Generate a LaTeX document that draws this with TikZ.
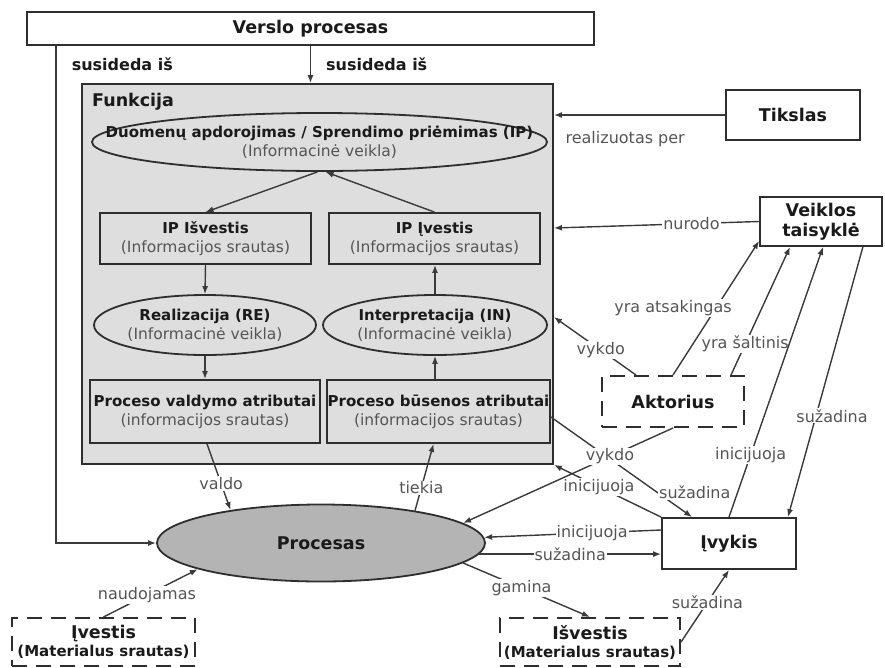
\documentclass[tikz,border=0pt]{standalone}
\usepackage{fontspec}
\setmainfont{DejaVu Sans}
\usetikzlibrary{shapes.geometric,arrows.meta}

\definecolor{ink}{HTML}{2E2E2E}
\definecolor{txt}{HTML}{1A1A1A}
\definecolor{linegray}{HTML}{3A3A3A}
\definecolor{labgray}{HTML}{555555}
\definecolor{funkfill}{HTML}{DEDEDE}
\definecolor{procfill}{HTML}{B4B4B4}

\newcommand{\fbig}{\fontsize{17.5}{20}\selectfont\bfseries}
\newcommand{\fttl}{\fontsize{15}{19}\selectfont\bfseries}
\newcommand{\fsub}{\fontsize{15.5}{19}\selectfont}
\newcommand{\flbl}{\fontsize{16}{19}\selectfont}

\tikzset{
  box/.style={draw=ink, line width=1.8pt, rectangle, inner sep=0pt, align=center, text=txt},
  ell/.style={draw=ink, line width=1.8pt, ellipse, inner sep=0pt},
  dbox/.style={box, line width=2pt, dash pattern=on 15pt off 9pt},
  arr/.style={draw=linegray, line width=1.4pt, -{Latex[length=8pt,width=6pt]}},
  lbl/.style={text=labgray, font=\flbl, fill=white, inner sep=1pt},
  boldlbl/.style={text=txt, font=\fontsize{16}{19}\selectfont\bfseries, inner sep=0pt},
  twoline/.style={align=center, font=\fsub, text=txt, inner sep=0pt},
}

\begin{document}
\begin{tikzpicture}[x=1pt,y=-1pt]
\useasboundingbox (0,0) rectangle (885,667);

% top level and the function frame
\node[box, minimum width=567pt, minimum height=33pt, font=\fbig] (verslo) at (310.5,28.5) {Verslo procesas};
\node[box, fill=funkfill, minimum width=471pt, minimum height=380pt] (funk) at (317.5,274) {};
\node[anchor=west, inner sep=0pt, font=\fbig, text=txt] (funktitle) at (92,102) {Funkcija};

% information activities and flows inside the function
\node[ell, fill=funkfill, minimum width=455pt, minimum height=58pt] (ipell) at (319.5,142) {};
\node[twoline] (ipelltxt) at (ipell) {{\fttl Duomenų apdorojimas / Sprendimo priėmimas (IP)}\\\textcolor{labgray}{(Informacinė veikla)}};

\node[box, fill=funkfill, minimum width=211pt, minimum height=51pt, font=\fsub] (ipout) at (205.5,238.5)
  {{\fttl IP Išvestis}\\\textcolor{labgray}{(Informacijos srautas)}};
\node[box, fill=funkfill, minimum width=211pt, minimum height=51pt, font=\fsub] (ipin) at (434.5,238.5)
  {{\fttl IP Įvestis}\\\textcolor{labgray}{(Informacijos srautas)}};

\node[ell, fill=funkfill, minimum width=222pt, minimum height=60pt] (re) at (205,325) {};
\node[twoline] (retxt) at (re) {{\fttl Realizacija (RE)}\\\textcolor{labgray}{(Informacinė veikla)}};
\node[ell, fill=funkfill, minimum width=224pt, minimum height=60pt] (inn) at (435,325) {};
\node[twoline] (inntxt) at (inn) {{\fttl Interpretacija (IN)}\\\textcolor{labgray}{(Informacinė veikla)}};

\node[box, fill=funkfill, minimum width=230pt, minimum height=63pt, font=\fsub] (pva) at (205,411.5)
  {{\fttl Proceso valdymo atributai}\\\textcolor{labgray}{(informacijos srautas)}};
\node[box, fill=funkfill, minimum width=223pt, minimum height=63pt, font=\fsub] (pba) at (438.5,411.5)
  {{\fttl Proceso būsenos atributai}\\\textcolor{labgray}{(informacijos srautas)}};

% process, material flows and surroundings
\node[ell, fill=procfill, minimum width=328pt, minimum height=77pt, font=\fbig, text=txt] (proc) at (321,543) {Procesas};
\node[dbox, minimum width=183pt, minimum height=48pt, font=\fbig] (ivestis) at (103.5,642)
  {Įvestis\\[-2pt]{\fttl (Materialus srautas)}};
\node[dbox, minimum width=180pt, minimum height=48pt, font=\fbig] (isvestis) at (590,642)
  {Išvestis\\[-2pt]{\fttl (Materialus srautas)}};
\node[box, fill=white, minimum width=134pt, minimum height=51pt, font=\fbig] (ivykis) at (729,543.5) {Įvykis};
\node[box, fill=white, minimum width=134pt, minimum height=50pt, font=\fbig] (tikslas) at (793,115) {Tikslas};
\node[box, fill=white, minimum width=122pt, minimum height=49pt, font=\fbig] (veiklos) at (821,221.5) {Veiklos\\taisyklė};
\node[dbox, minimum width=142pt, minimum height=51pt, font=\fbig] (aktorius) at (673,401.5) {Aktorius};

% composition of the business process
\draw[arr] (verslo.south) -- node[boldlbl, anchor=west, xshift=15pt] {susideda iš} (verslo.south |- funk.north);
\draw[arr] ([xshift=30pt]verslo.south west) |- node[boldlbl, pos=0.018, anchor=west, xshift=15pt] {susideda iš} (proc.west);

% flows inside the function
\draw[arr] ([xshift=-2pt]ipell.south) -- (ipout.north);
\draw[arr] (ipin.north) -- ([xshift=6pt]ipell.south);
\draw[arr] (ipout.south) -- (re.north);
\draw[arr] (re.south) -- (pva.north);
\draw[arr] (inn.south |- pba.north) -- (inn.south);
\draw[arr] (inn.north) -- (inn.north |- ipin.south);

% goal, rules and actor
\draw[arr] (tikslas.west) -- (funk.east |- tikslas.west)
  node[lbl, pos=1, anchor=west, xshift=10pt, yshift=-24pt] {realizuotas per};
\draw[arr] (veiklos.west) -- node[lbl, pos=0.33] {nurodo} ([yshift=46pt]funk.east);
\draw[arr] ([xshift=35pt]aktorius.north west) -- node[lbl, pos=0.43] {vykdo} ([yshift=-43pt]funk.east);
\draw[arr] (aktorius.north) -- node[lbl, pos=0.5, xshift=-43pt] {yra atsakingas} ([yshift=6pt]veiklos.south west);
\draw[arr] ([xshift=-14pt]aktorius.north east) -- node[lbl, pos=0.24] {yra šaltinis} ([xshift=-31pt]veiklos.south);
\draw[arr] (ivykis.north) -- node[lbl, pos=0.23] {inicijuoja} ([xshift=2pt]veiklos.south);
\draw[arr] ([xshift=-20pt]veiklos.south east) -- node[lbl, pos=0.625, xshift=16pt] {sužadina} ([xshift=-9pt]ivykis.north east);

% events
\draw[arr] ([yshift=-5.5pt]pba.east) -- node[lbl, pos=0.75, xshift=38pt] {sužadina} ([xshift=31pt]ivykis.north west);
\draw[arr] (ivykis.north west) -- node[lbl, pos=0.58] {inicijuoja} (funk.south east);
\draw[arr] (aktorius.south) -- node[lbl, pos=0.3] {vykdo} (proc.8);
\draw[arr] (proc.-4.4) -- node[lbl, midway] {sužadina} (proc.-4.4 -| ivykis.west);
\draw[arr] ([yshift=13.5pt]ivykis.west) -- node[lbl, pos=0.39] {inicijuoja} (proc.2);

% process relations
\draw[arr] (proc.-8) -- node[lbl, pos=0.46] {gamina} (isvestis.north);
\draw[arr] (ivestis.north) -- node[lbl, pos=0.46] {naudojamas} (proc.192);
\draw[arr] ([xshift=2pt]pva.south) -- node[lbl, pos=0.6] {valdo} (proc.160);
\draw[arr] (proc.19) -- node[lbl, pos=0.34] {tiekia} ([xshift=-5pt]pba.south);
\draw[arr] (isvestis.east) -- node[lbl, pos=0.55] {sužadina} (ivykis.south);
\end{tikzpicture}
\end{document}
